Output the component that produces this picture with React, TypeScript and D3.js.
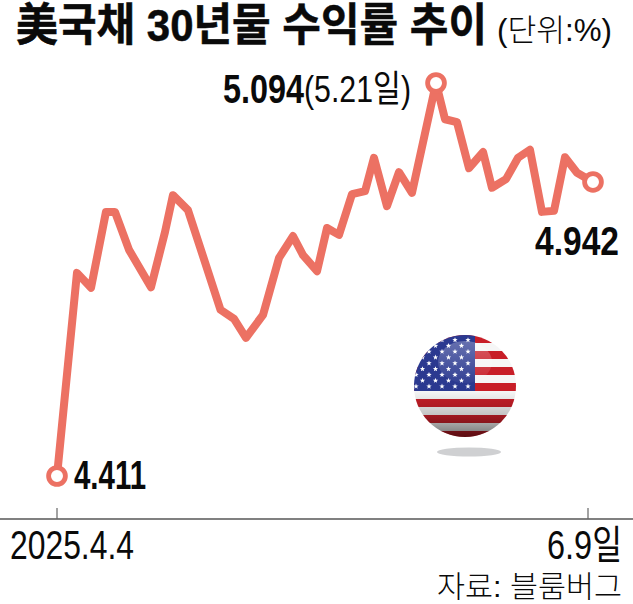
import React from "react";
import * as d3 from "d3";

const W = 633, H = 604;
const dayOffsets = [0,2.46,4.19,6.03,7.14,8.87,11.57,13.3,14.28,16.13,20.13,21.8,23.27,25.37,27.34,29.06,30.29,32.02,33.25,34.72,36.33,37.93,39.03,40.63,42.11,43.71,46.67,47.78,49.25,50.73,52.46,53.56,55.29,56.77,58.24,59.72,61.2,62.55,64.03,66];
const yields = [4.411,4.764,4.738,4.87,4.87,4.804,4.739,4.835,4.899,4.873,4.7,4.684,4.651,4.691,4.79,4.828,4.795,4.767,4.842,4.83,4.901,4.906,4.964,4.88,4.939,4.903,5.094,5.031,5.026,4.946,4.974,4.912,4.927,4.964,4.978,4.87,4.872,4.965,4.938,4.922];
const markerIdx = [0, 26, 39];
const flagStripes = d3.range(0, 13);
const starRows = d3.range(0, 9);
const starCols = d3.range(0, 11);

const SANS = "'Liberation Sans','Noto Sans CJK KR',sans-serif";
const x = d3.scaleLinear().domain([0, 66]).range([57, 593]);
const y = d3.scaleLinear().domain([4.411, 5.094]).range([476, 83]);
const LINE = "#ec7163";

const starPath = (cx: number, cy: number, r: number) => {
  const pts: string[] = [];
  for (let i = 0; i < 10; i++) {
    const a = -Math.PI / 2 + (i * Math.PI) / 5;
    const rr = i % 2 ? r * 0.42 : r;
    pts.push(`${cx + rr * Math.cos(a)},${cy + rr * Math.sin(a)}`);
  }
  return `M${pts.join("L")}Z`;
};

function T(p: any) {
  const { w, children, ...rest } = p;
  return (
    <text textLength={w} lengthAdjust="spacingAndGlyphs" fontFamily={SANS} fill="#0a0a0a" {...rest}>
      {children}
    </text>
  );
}

function Flag() {
  const cx = 465, cy = 386, r = 51;
  const top = 334, sh = 8;
  const bottomStart = 391;
  return (
    <g>
      <defs>
        <clipPath id="ball"><circle cx={cx} cy={cy} r={r} /></clipPath>
        <clipPath id="canton"><rect x={cx - r} y={cy - r} width={475 - cx + r} height={391 - cy + r} /></clipPath>
        <linearGradient id="shadeV" x1="0" y1="0" x2="0" y2="1">
          <stop offset="0.55" stopColor="#000" stopOpacity="0" />
          <stop offset="0.8" stopColor="#000" stopOpacity="0.22" />
          <stop offset="1" stopColor="#000" stopOpacity="0.55" />
        </linearGradient>
        <linearGradient id="gloss" x1="0" y1="0" x2="0" y2="1">
          <stop offset="0" stopColor="#fff" stopOpacity="0.28" />
          <stop offset="1" stopColor="#fff" stopOpacity="0.04" />
        </linearGradient>
      </defs>
      <ellipse cx={469} cy={452} rx={32} ry={4.5} fill="#cfd0d2" />
      <g clipPath="url(#ball)">
        <rect x={cx - r} y={cy - r} width={2 * r} height={2 * r} fill="#f6f6f6" />
        {flagStripes.map((i) =>
          i % 2 === 0 ? (
            <rect key={i} x={cx - r} y={top + i * sh + 1} width={2 * r} height={sh} fill="#c81e28" />
          ) : null
        )}
        <rect x={cx - r} y={cy - r} width={475 - cx + r} height={bottomStart - cy + r} fill="#2b3990" />
        <g clipPath="url(#canton)" fill="#fff">
          {starRows.map((row) =>
            starCols.map((col) => (
              <path
                key={`${row}-${col}`}
                d={starPath(468 - col * 13 - (row % 2 ? 6.5 : 0), 340 + row * 5.8, 2.8)}
              />
            ))
          )}
        </g>
        <rect x={cx - r} y={cy - r} width={2 * r} height={2 * r} fill="url(#shadeV)" />
        <ellipse cx={465} cy={362} rx={27} ry={21} fill="url(#gloss)" />
      </g>
    </g>
  );
}

export default function App() {
  const line = d3
    .line<number>()
    .x((_, i) => x(dayOffsets[i]))
    .y((d) => y(d));
  return (
    <svg width={W} height={H} style={{ position: "absolute", left: 0, top: 0, background: "#fff" }}>
      <T x={16} y={41} w={471} fontSize={45} fontWeight={700} stroke="#0a0a0a" strokeWidth={0.5}>美국채 30년물 수익률 추이</T>
      <T x={497} y={41} w={115} fontSize={31} fontWeight={300}>(단위:%)</T>

      <path d={line(yields) || ""} fill="none" stroke={LINE} strokeWidth={8} strokeLinejoin="round" strokeLinecap="round" />
      {markerIdx.map((i) => (
        <circle key={i} cx={x(dayOffsets[i])} cy={y(yields[i])} r={8.4} fill="#fff" stroke={LINE} strokeWidth={4.8} />
      ))}

      <T x={223} y={103} w={81} fontSize={40} fontWeight={700}>5.094</T>
      <T x={304} y={102} w={107} fontSize={37} fontWeight={400}>(5.21일)</T>
      <T x={535} y={255} w={84} fontSize={40} fontWeight={700}>4.942</T>
      <T x={74} y={489} w={72} fontSize={40} fontWeight={700}>4.411</T>

      <Flag />

      <line x1={0} x2={W} y1={519} y2={519} stroke="#808080" strokeWidth={2} />
      <line x1={57} x2={57} y1={508} y2={519} stroke="#666" strokeWidth={1.2} />
      <line x1={588} x2={588} y1={508} y2={519} stroke="#666" strokeWidth={1.2} />
      <T x={10} y={559} w={124} fontSize={40} fontWeight={400}>2025.4.4</T>
      <T x={547} y={559} w={75} fontSize={40} fontWeight={400}>6.9일</T>
      <T x={437} y={597} w={185} fontSize={30} fontWeight={300}>자료: 블룸버그</T>
    </svg>
  );
}
